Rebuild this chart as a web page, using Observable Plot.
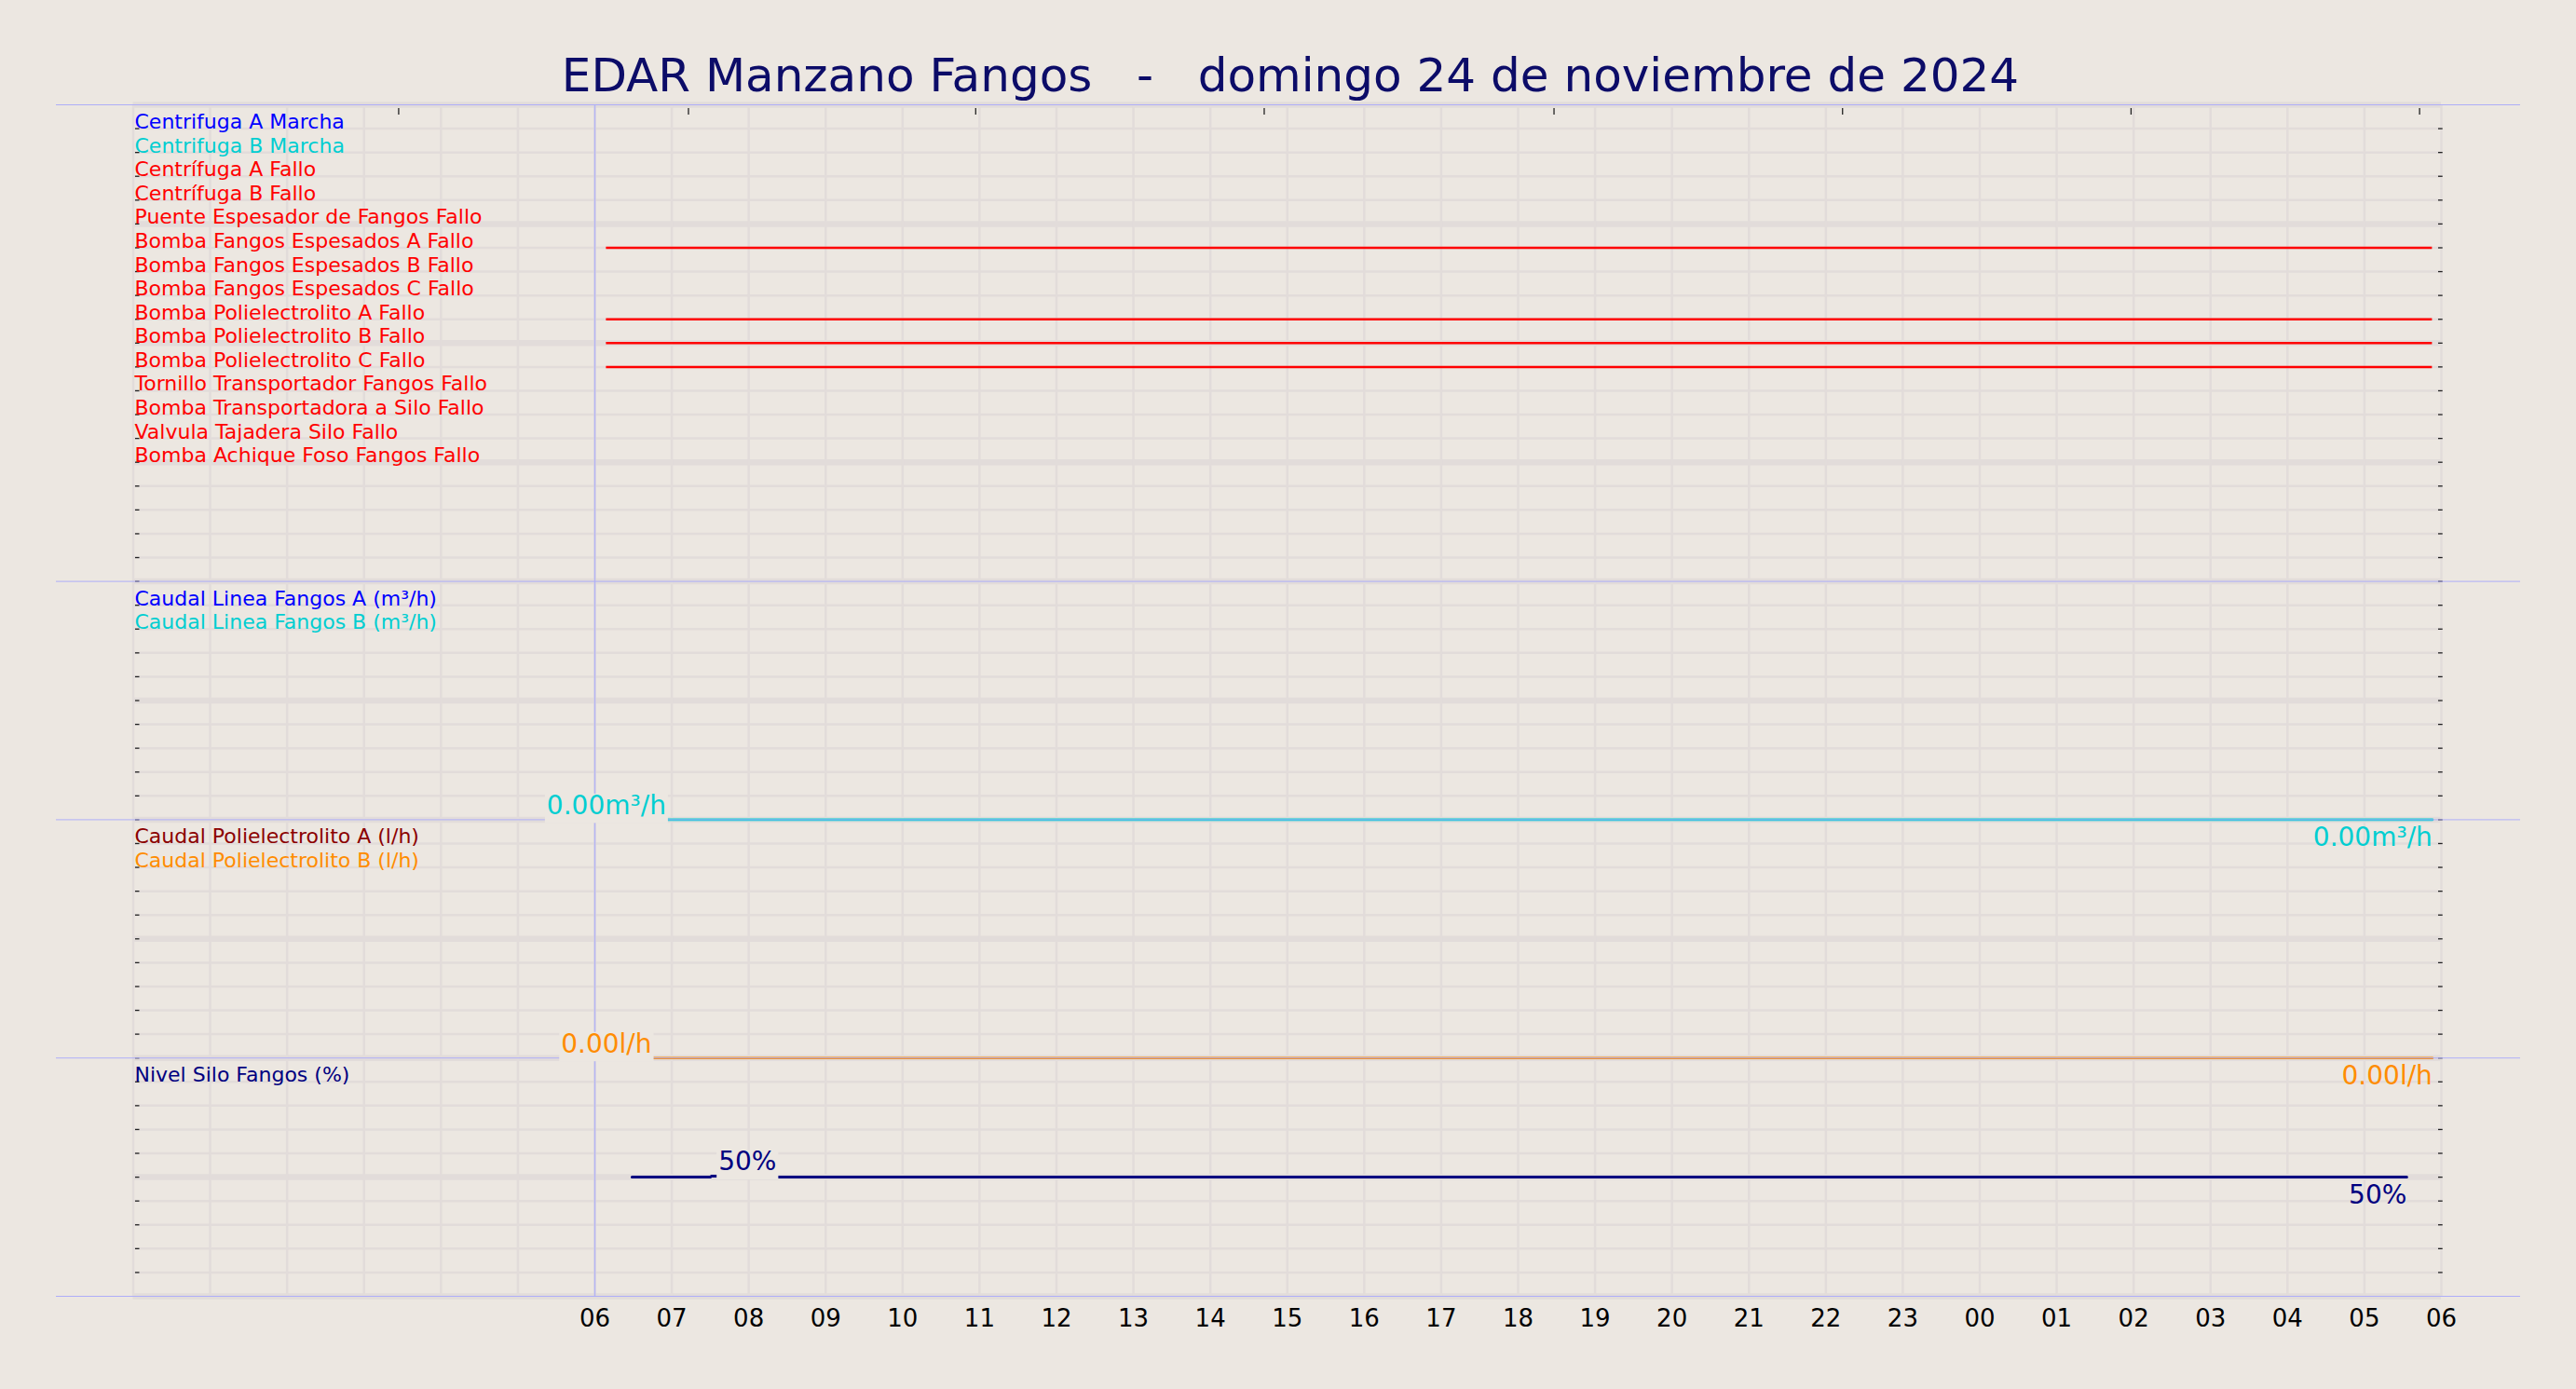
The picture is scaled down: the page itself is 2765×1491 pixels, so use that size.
<!DOCTYPE html>
<html>
<head>
<meta charset="utf-8">
<script src="https://cdn.jsdelivr.net/npm/d3@7"></script>
<script src="https://cdn.jsdelivr.net/npm/@observablehq/plot@0.6"></script>
<style>
  html, body { margin: 0; padding: 0; background: #ece7e1; overflow: hidden; }
  #title { position: relative; width: 2765px; height: 100px; }
  #title span {
    position: absolute; left: 2.5px; width: 2765px; top: 55.7px;
    text-align: center; white-space: pre;
    font-family: "DejaVu Sans"; font-size: 50px; line-height: 50px; color: #0c0c68;
  }
  #chart svg { display: block; }
</style>
</head>
<body>
<div id="title"><span>EDAR Manzano Fangos   -   domingo 24 de noviembre de 2024</span></div>
<div id="chart"></div>
<script>
// ---------------- data ----------------
const rangeStart = "2024-11-24T00:00:00Z";
const rangeEnd = "2024-11-25T06:00:00Z";
const dayStart = "2024-11-24T06:00:00Z";

// digital signals (panel 1)
const signalNames = [
  "Centrifuga A Marcha",
  "Centrifuga B Marcha",
  "Centrífuga A Fallo",
  "Centrífuga B Fallo",
  "Puente Espesador de Fangos Fallo",
  "Bomba Fangos Espesados A Fallo",
  "Bomba Fangos Espesados B Fallo",
  "Bomba Fangos Espesados C Fallo",
  "Bomba Polielectrolito A Fallo",
  "Bomba Polielectrolito B Fallo",
  "Bomba Polielectrolito C Fallo",
  "Tornillo Transportador Fangos Fallo",
  "Bomba Transportadora a Silo Fallo",
  "Valvula Tajadera Silo Fallo",
  "Bomba Achique Foso Fangos Fallo"
];
const signalColors = [
  "#0000ff", "#00ced1", "#ff0000", "#ff0000", "#ff0000", "#ff0000", "#ff0000", "#ff0000",
  "#ff0000", "#ff0000", "#ff0000", "#ff0000", "#ff0000", "#ff0000", "#ff0000"
];
// active intervals of digital signals
const activeSignals = [
  "Bomba Fangos Espesados A Fallo",
  "Bomba Polielectrolito A Fallo",
  "Bomba Polielectrolito B Fallo",
  "Bomba Polielectrolito C Fallo"
];
const activeFrom = ["2024-11-24T06:09:00Z", "2024-11-24T06:09:00Z", "2024-11-24T06:09:00Z", "2024-11-24T06:09:00Z"];
const activeTo = ["2024-11-25T05:53:00Z", "2024-11-25T05:53:00Z", "2024-11-25T05:53:00Z", "2024-11-25T05:53:00Z"];

// analog panels
const panelLegend = [
  ["Caudal Linea Fangos A (m³/h)", "Caudal Linea Fangos B (m³/h)"],
  ["Caudal Polielectrolito A (l/h)", "Caudal Polielectrolito B (l/h)"],
  ["Nivel Silo Fangos (%)"]
];
const panelLegendColors = [["#0000ff", "#00ced1"], ["#8b0000", "#ff8c00"], ["#000080"]];
const panelMax = [10, 10, 100];

// series values
const caudalLineaB = [["2024-11-24T06:09:00Z", 0], ["2024-11-25T05:53:00Z", 0]];
const caudalPoliB = [["2024-11-24T06:09:00Z", 0], ["2024-11-25T05:53:00Z", 0]];
const nivelSilo = [
  ["2024-11-24T06:29:00Z", 50],
  ["2024-11-24T07:30:00Z", 50],
  ["2024-11-24T07:31:00Z", 50.4],
  ["2024-11-24T07:59:00Z", 50.45],
  ["2024-11-24T08:15:00Z", 50.4],
  ["2024-11-24T08:16:00Z", 50],
  ["2024-11-25T05:33:00Z", 50]
];
const seriesList = [
  {panel: 0, unit: "m³/h", digits: 2, color: "#00ced1", width: 2.8, values: caudalLineaB},
  {panel: 1, unit: "l/h", digits: 2, color: "#ff8c00", width: 2.6, values: caudalPoliB},
  {panel: 2, unit: "%", digits: 0, color: "#000080", width: 3, values: nivelSilo}
];

// top axis ticks
const topTicks = [
  "2024-11-24T03:27:00Z", "2024-11-24T07:13:00Z", "2024-11-24T10:57:00Z", "2024-11-24T14:42:00Z",
  "2024-11-24T18:28:00Z", "2024-11-24T22:13:00Z", "2024-11-25T01:58:00Z", "2024-11-25T05:43:00Z"
];
// bottom tick labels: hours 06 .. 06
const labelFrom = "2024-11-24T06:00:00Z";

// ---------------- layout ----------------
const W = 2765, H = 1391;
const mL = 142.5, mR = 145, mT = 12, mB = 100;
const frameW = W - mL - mR, frameH = H - mT - mB;
const bg = "#ece7e1", gridColor = "#e2dcda", sepColor = "#aeaef8";
const panelRows = [20, 10, 10, 10];
const totalRows = d3.sum(panelRows);
const panelTop = panelRows.map((r, i) => d3.sum(panelRows.slice(0, i)));

const D = s => new Date(s);
const rows = d3.range(0, totalRows + 1);
const gridHours = d3.utcHour.range(D(rangeStart), new Date(+D(rangeEnd) + 1));
const labelHours = d3.utcHour.range(D(labelFrom), new Date(+D(rangeEnd) + 1));

const signalRows = signalNames.map((name, i) => ({name, color: signalColors[i], row: i + 1}));
const activeRows = activeSignals.map((name, j) => ({
  row: signalNames.indexOf(name) + 1,
  color: signalColors[signalNames.indexOf(name)],
  from: D(activeFrom[j]), to: D(activeTo[j])
}));

const legendRows = panelLegend.flatMap((names, p) =>
  names.map((name, j) => ({name, color: panelLegendColors[p][j], row: panelTop[p + 1] + j + 1})));

const rowOf = (p, v) => panelTop[p + 1] + panelRows[p + 1] * (1 - v / panelMax[p]);
const seriesPts = seriesList.map(s => s.values.map(([t, v]) => ({t: D(t), v, y: rowOf(s.panel, v), color: s.color})));
const fmt = (s, v) => v.toFixed(s.digits) + s.unit;
const startLabels = seriesList.map((s, i) => {
  const p = d3.greatest(seriesPts[i], d => d.v);
  return {...p, text: fmt(s, p.v)};
});
const endLabels = seriesList.map((s, i) => {
  const p = seriesPts[i][seriesPts[i].length - 1];
  return {...p, text: fmt(s, p.v)};
});

const chart = Plot.plot({
  width: W, height: H,
  marginLeft: mL, marginRight: mR, marginTop: mT, marginBottom: mB,
  style: {background: "transparent", fontFamily: "DejaVu Sans", color: "#000", overflow: "visible"},
  x: {type: "utc", domain: [D(rangeStart), D(rangeEnd)]},
  y: {domain: [0, totalRows], reverse: true, axis: null},
  color: {type: "identity"},
  marks: [
    // grid
    Plot.ruleY(rows.filter(k => k % 5 !== 0), {y: d => d, stroke: gridColor, strokeWidth: 2.5}),
    Plot.ruleY(rows.filter(k => k % 5 === 0), {y: d => d, stroke: gridColor, strokeWidth: 6.5}),
    Plot.ruleX(gridHours, {x: d => d, stroke: gridColor, strokeWidth: 2.5}),
    Plot.ruleX([D(dayStart)], {x: d => d, stroke: "#b4b4f4", strokeWidth: 1.5}),
    // ticks
    Plot.ruleX(topTicks.map(D), {x: d => d, stroke: "#222", strokeWidth: 1.3, insetTop: 4, insetBottom: frameH - 11}),
    Plot.ruleY(rows.slice(1, totalRows), {y: d => d, stroke: "#222", strokeWidth: 1.3, insetLeft: 2.5, insetRight: frameW - 7}),
    Plot.ruleY(rows.slice(1, totalRows), {y: d => d, stroke: "#222", strokeWidth: 1.3, insetLeft: frameW - 3, insetRight: -1.7}),
    // digital signals
    Plot.ruleY(activeRows, {y: "row", x1: "from", x2: "to", stroke: "color", strokeWidth: 2.5}),
    // analog series
    ...seriesList.map((s, i) => Plot.line(seriesPts[i], {x: "t", y: "y", stroke: s.color, strokeWidth: s.width})),
    // panel separators
    Plot.ruleY(panelTop.concat([totalRows]), {y: d => d, stroke: sepColor, strokeWidth: 1, insetLeft: -82.5, insetRight: -85}),
    // labels
    Plot.text(signalRows, {frameAnchor: "left", y: "row", text: "name", fill: "color", textAnchor: "start", lineAnchor: "bottom", dx: 1.5, fontSize: 22}),
    Plot.text(legendRows, {frameAnchor: "left", y: "row", text: "name", fill: "color", textAnchor: "start", lineAnchor: "bottom", dx: 1.5, fontSize: 22}),
    Plot.text(startLabels, {x: "t", y: "y", text: "text", fill: "color", textAnchor: "middle", lineAnchor: "bottom", dy: -6, fontSize: 28, ariaDescription: "etiqueta-inicio"}),
    Plot.text(endLabels, {x: "t", y: "y", text: "text", fill: "color", textAnchor: "end", lineAnchor: "bottom", dy: 28, fontSize: 28}),
    // bottom axis
    Plot.axisX(labelHours, {anchor: "bottom", tickSize: 0, tickPadding: 14.5, fontSize: 26, tickFormat: d => d3.utcFormat("%H")(d), fill: "#000"})
  ]
});

document.getElementById("chart").append(chart);

// background boxes behind the start-value labels
d3.select(chart).selectAll('g[aria-description="etiqueta-inicio"] text').each(function () {
  const b = this.getBBox();
  const r = document.createElementNS("http://www.w3.org/2000/svg", "rect");
  r.setAttribute("x", b.x - 2);
  r.setAttribute("y", b.y + 4);
  r.setAttribute("width", b.width + 4);
  r.setAttribute("height", b.height - 1.5);
  r.setAttribute("fill", bg);
  r.setAttribute("stroke", "none");
  const tr = this.getAttribute("transform");
  if (tr) r.setAttribute("transform", tr);
  this.parentNode.insertBefore(r, this);
});
</script>
</body>
</html>
